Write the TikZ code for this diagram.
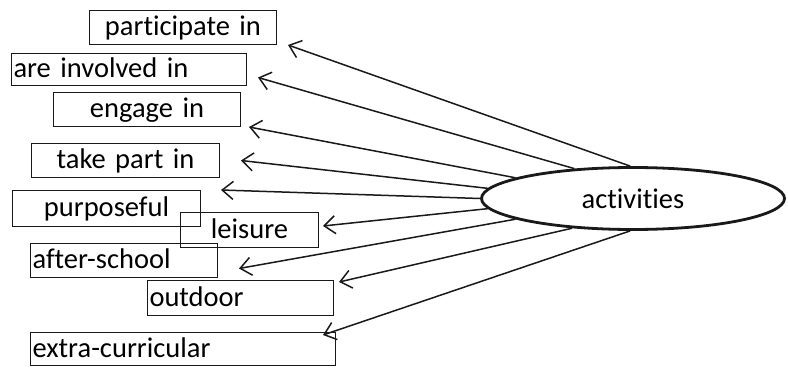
\documentclass[tikz,border=0pt]{standalone}
\usepackage{fontspec}
\setmainfont{Carlito}[Ligatures=NoCommon]
\usetikzlibrary{arrows.meta,shapes.geometric}

\begin{document}
\begin{tikzpicture}[x=1pt,y=-1pt,
    box/.style={draw=black!90, line width=1pt, anchor=north west, inner xsep=2pt, inner ysep=0pt,
        minimum height=34pt, text height=21pt, text depth=5pt, font=\fontsize{28.5}{32}\selectfont},
    arr/.style={<-, >={Straight Barb[length=11pt,width=18pt,line width=1.5pt]}, line width=1.5pt, black!90}]
            \useasboundingbox (0,0) rectangle (788,372);

            % the phrases on the left
            \node[box, text width=183pt, align=center] (participate) at (89,10) {participate in};
            \node[box, text width=231pt, align=left, minimum height=32pt] (involved) at (11,53) {are involved in};
            \node[box, text width=183pt, align=center] (engage) at (53,92) {engage in};
            \node[box, text width=184pt, align=center] (takepart) at (31,143) {take part in};
            \node[box, text width=184pt, align=center, minimum height=36pt] (purposeful) at (12,190) {purposeful};
            \node[box, text width=134pt, align=center, minimum height=35pt] (leisure) at (180,212) {leisure};
            \node[box, text width=183pt, align=left] (afterschool) at (30,243) {after-school};
            \node[box, text width=182pt, align=left, minimum height=35pt] (outdoor) at (147,280) {outdoor};
            \node[box, text width=301pt, align=left, minimum height=33pt] (extra) at (30,332) {extra-curricular};

            % the word they go with
            \node[ellipse, draw=black!90, line width=2.8pt, minimum width=303pt, minimum height=62pt, inner sep=0pt,
                font=\fontsize{28.5}{32}\selectfont] (act) at (633,198.5) {\raisebox{-4pt}{activities}};

            \draw[arr] ([xshift=11pt]participate.south east) -- (act.95);
            \draw[arr] ([xshift=11pt,yshift=-8pt]involved.east) -- (act.153);
            \draw[arr] ([xshift=8pt]engage.south east) -- (act.170);
            \draw[arr] ([xshift=21pt]takepart.east) -- (act.176.5);
            \draw[arr] ([xshift=20pt]purposeful.north east) -- (act.180);
            \draw[arr] ([xshift=4pt,yshift=4pt]leisure.east) -- (act.184);
            \draw[arr] ([xshift=21pt,yshift=-8pt]afterschool.east) -- (act.190);
            \draw[arr] ([xshift=5pt,yshift=-2pt]outdoor.north east) -- (act.206);
            \draw[arr] ([xshift=-13pt,yshift=-3pt]extra.north east) -- (act.265);
        \end{tikzpicture}
\end{document}
